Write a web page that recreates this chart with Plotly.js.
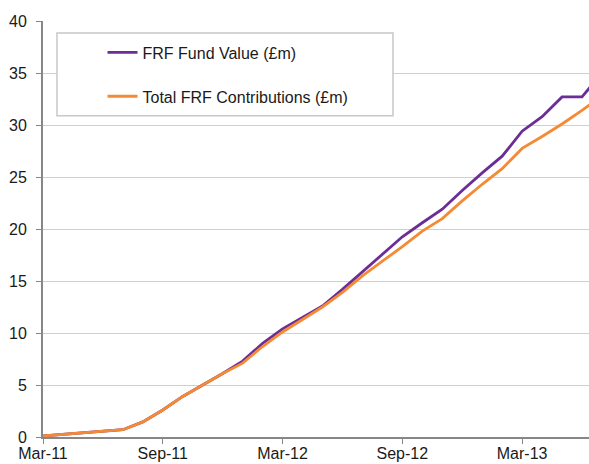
<!DOCTYPE html>
<html>
<head>
<meta charset="utf-8">
<script src="https://cdn.plot.ly/plotly-3.0.1.min.js"></script>
<style>html,body{margin:0;padding:0;background:#fff;}#chart{width:589px;height:464px;}</style>
</head>
<body>
<div id="chart"></div>
<script>
const months = ["Mar-11","Apr-11","May-11","Jun-11","Jul-11","Aug-11","Sep-11","Oct-11","Nov-11","Dec-11",
  "Jan-12","Feb-12","Mar-12","Apr-12","May-12","Jun-12","Jul-12","Aug-12","Sep-12","Oct-12","Nov-12","Dec-12",
  "Jan-13","Feb-13","Mar-13","Apr-13","May-13","Jun-13","Jul-13"];
const fundValue = [0.1,0.25,0.4,0.55,0.7,1.45,2.6,3.9,5.0,6.1,
  7.3,9.0,10.4,11.5,12.6,14.2,15.9,17.6,19.25,20.6,21.9,23.7,
  25.4,27.0,29.4,30.8,32.7,32.7,35.0];
const contributions = [0.1,0.25,0.4,0.55,0.7,1.45,2.6,3.9,5.0,6.1,
  7.1,8.7,10.1,11.3,12.5,13.9,15.5,16.9,18.3,19.8,21.0,22.7,
  24.3,25.8,27.75,28.9,30.1,31.4,32.8];
const tickLabels = ["Mar-11","Sep-11","Mar-12","Sep-12","Mar-13"];
const seriesNames = ["FRF Fund Value (£m)","Total FRF Contributions (£m)"];

const font = {family: "Liberation Sans, Arial, sans-serif", size: 16, color: "#1a1a1a"};
const traces = [
  {x: months, y: fundValue, type: "scatter", mode: "lines", name: seriesNames[0], legendgroup: "a",
   line: {color: "#6B2D96", width: 2.8}},
  {x: months, y: contributions, type: "scatter", mode: "lines", name: seriesNames[1], legendgroup: "b",
   line: {color: "#F58A35", width: 2.8}}
];
const layout = {
  width: 589, height: 464,
  margin: {l: 43, r: 0, t: 21, b: 27, pad: 0},
  paper_bgcolor: "#fff", plot_bgcolor: "#fff",
  font: font,
  showlegend: true,
  legend: {x: 0.109, xanchor: "left", y: 0.965, yanchor: "top", bgcolor: "rgba(0,0,0,0)",
    borderwidth: 0, font: font, traceorder: "grouped", tracegroupgap: 20},
  xaxis: {type: "category", range: [0, 27.35], tickmode: "array", tickvals: tickLabels, ticktext: tickLabels,
    showgrid: false, showline: true, linecolor: "#878787", linewidth: 2,
    ticks: "outside", ticklen: 5, tickwidth: 1, tickcolor: "#878787", tickfont: font, zeroline: false,
    ticklabelstandoff: -4},
  yaxis: {range: [0, 40], dtick: 5, tick0: 0, showgrid: true, gridcolor: "#cfcfcf", gridwidth: 1,
    showline: true, linecolor: "#878787", linewidth: 2, zeroline: false,
    ticks: "outside", ticklen: 5, tickwidth: 1, tickcolor: "#878787", tickfont: font, ticklabelstandoff: 6},
  shapes: [{type: "rect", xref: "paper", yref: "paper", x0: 0.0256, x1: 0.641, y0: 0.772, y1: 0.971,
    line: {color: "#c8c8c8", width: 1.5}, fillcolor: "#ffffff", layer: "above"}]
};
Plotly.newPlot("chart", traces, layout, {displayModeBar: false, staticPlot: true});
</script>
</body>
</html>
